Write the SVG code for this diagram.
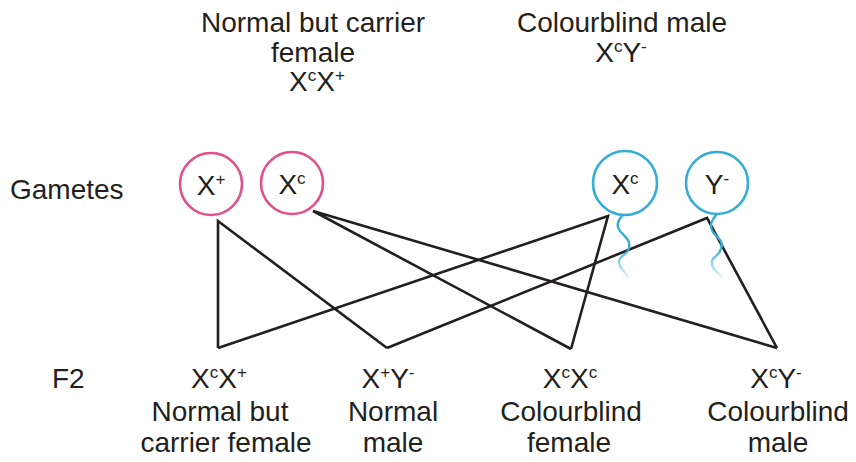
<svg xmlns="http://www.w3.org/2000/svg" width="856" height="462" viewBox="0 0 856 462">
  <style>
    .t { font-family: "Liberation Sans", Arial, sans-serif; font-size: 28px; fill: #231f20; text-anchor: middle; }
    .l { text-anchor: start; }
    .sup { font-size: 17px; }
    .mom { fill: #ffffff; stroke: #e2508b; stroke-width: 2.6; }
    .dad { fill: #ffffff; stroke: #34acd6; stroke-width: 2.6; }
    .tail { fill: none; stroke-width: 2.4; stroke-linecap: round; }
    .link { fill: none; stroke: #231f20; stroke-width: 2.6; stroke-linejoin: miter; }
  </style>
  <defs>
    <linearGradient id="tailFade" x1="0" y1="0" x2="0" y2="1">
      <stop offset="0" stop-color="#34acd6" stop-opacity="1"/>
      <stop offset="0.5" stop-color="#34acd6" stop-opacity="1"/>
      <stop offset="1" stop-color="#34acd6" stop-opacity="0.15"/>
    </linearGradient>
  </defs>
  <rect width="856" height="462" fill="#ffffff"/>

  <!-- parents -->
  <g id="parent-female">
    <text class="t" x="313" y="32">Normal but carrier</text>
    <text class="t" x="313" y="62">female</text>
    <text class="t" x="317" y="91">X<tspan class="sup" dy="-10">c</tspan><tspan dy="10">X</tspan><tspan class="sup" dy="-10">+</tspan></text>
  </g>
  <g id="parent-male">
    <text class="t" x="622" y="32">Colourblind male</text>
    <text class="t" x="621" y="62">X<tspan class="sup" dy="-10">c</tspan><tspan dy="10">Y</tspan><tspan class="sup" dy="-10">-</tspan></text>
  </g>

  <!-- row labels -->
  <g id="label-gametes"><text class="t l" x="10" y="199">Gametes</text></g>
  <g id="label-f2"><text class="t l" x="52" y="388">F2</text></g>

  <!-- connectors -->
  <g id="connectors">
    <polyline class="link" points="218,348 218,221 387,348"/>
    <polyline class="link" points="571,349 313,211 777,348"/>
    <polyline class="link" points="218,348 608,216 571,349"/>
    <polyline class="link" points="387,348 707,218 777,348"/>
  </g>

  <!-- gametes -->
  <g id="gamete-x-plus">
    <circle class="mom" cx="211" cy="184" r="31"/>
    <text class="t" x="211" y="195">X<tspan class="sup" dy="-10">+</tspan></text>
  </g>
  <g id="gamete-x-c-female">
    <circle class="mom" cx="292" cy="183" r="31"/>
    <text class="t" x="292" y="194">X<tspan class="sup" dy="-10">c</tspan></text>
  </g>
  <g id="gamete-x-c-male">
    <path class="tail" stroke="url(#tailFade)" d="M623,215 C617,221 616,226 620,231 S631,240 629,248 S619,255 619,262 S626,272 628,277"/>
    <circle class="dad" cx="625" cy="183" r="32"/>
    <text class="t" x="625" y="194">X<tspan class="sup" dy="-10">c</tspan></text>
  </g>
  <g id="gamete-y-minus">
    <path class="tail" stroke="url(#tailFade)" d="M716,215 C711,221 709,226 713,232 S724,240 721,249 S711,256 712,264 S720,273 722,277"/>
    <circle class="dad" cx="717" cy="183" r="31"/>
    <text class="t" x="717" y="194">Y<tspan class="sup" dy="-10">-</tspan></text>
  </g>

  <!-- offspring -->
  <g id="f2-carrier-female">
    <text class="t" x="219" y="388">X<tspan class="sup" dy="-10">c</tspan><tspan dy="10">X</tspan><tspan class="sup" dy="-10">+</tspan></text>
    <text class="t" x="220" y="421">Normal but</text>
    <text class="t" x="226" y="452">carrier female</text>
  </g>
  <g id="f2-normal-male">
    <text class="t" x="388" y="388">X<tspan class="sup" dy="-10">+</tspan><tspan dy="10">Y</tspan><tspan class="sup" dy="-10">-</tspan></text>
    <text class="t" x="393" y="421">Normal</text>
    <text class="t" x="393" y="452">male</text>
  </g>
  <g id="f2-colourblind-female">
    <text class="t" x="570" y="388">X<tspan class="sup" dy="-10">c</tspan><tspan dy="10">X</tspan><tspan class="sup" dy="-10">c</tspan></text>
    <text class="t" x="571" y="421">Colourblind</text>
    <text class="t" x="569" y="452">female</text>
  </g>
  <g id="f2-colourblind-male">
    <text class="t" x="776" y="388">X<tspan class="sup" dy="-10">c</tspan><tspan dy="10">Y</tspan><tspan class="sup" dy="-10">-</tspan></text>
    <text class="t" x="778" y="421">Colourblind</text>
    <text class="t" x="778" y="452">male</text>
  </g>
</svg>
